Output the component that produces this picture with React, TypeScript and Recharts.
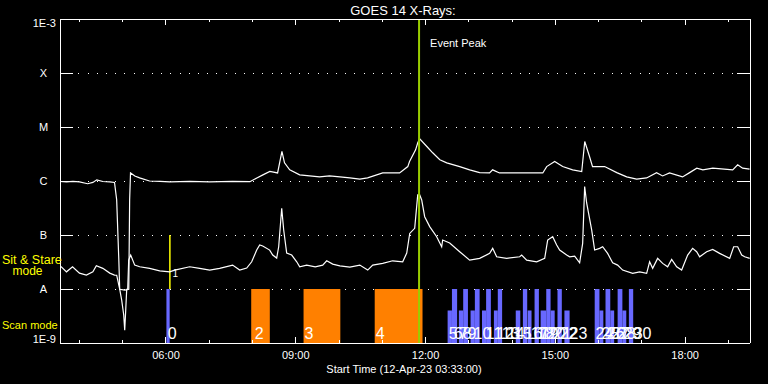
import React from 'react';
import {
  ComposedChart, Line, XAxis, YAxis, CartesianGrid,
  ReferenceArea, ReferenceLine, ReferenceDot,
} from 'recharts';

// GOES 14 X-ray flux, 12-Apr-23 (time in decimal hours UT, flux in W/m^2)
const longChannel: [number, number][] = [
  [3.55, 9.8e-7], [3.7, 9.6e-7], [3.85, 9.8e-7], [4.0, 9.6e-7], [4.19, 8.9e-7],
  [4.31, 9.4e-7], [4.4, 1.05e-6], [4.54, 9.8e-7], [4.7, 9.6e-7], [4.81, 9.4e-7],
  [4.86, 4.5e-7], [4.91, 3.4e-8], [4.93, 9.9e-9], [5.05, 9.5e-9], [5.14, 9.9e-9],
  [5.16, 4.5e-7], [5.18, 1.41e-6], [5.28, 1.24e-6], [5.39, 1.14e-6], [5.62, 1.0e-6],
  [5.86, 9.8e-7], [6.09, 9.6e-7], [6.55, 9.8e-7], [7.01, 9.6e-7], [7.54, 9.8e-7],
  [7.94, 9.7e-7], [8.1, 1.14e-6], [8.24, 1.3e-6], [8.4, 1.5e-6], [8.58, 1.41e-6],
  [8.68, 3.52e-6], [8.74, 2.17e-6], [8.86, 1.61e-6], [9.09, 1.3e-6], [9.32, 1.24e-6],
  [9.55, 1.19e-6], [9.78, 1.24e-6], [10.02, 1.19e-6], [10.25, 1.14e-6], [10.48, 1.08e-6],
  [10.66, 1.14e-6], [11.01, 1.41e-6], [11.4, 1.41e-6], [11.59, 1.85e-6], [11.63, 2.29e-6],
  [11.77, 3.78e-6], [11.82, 5.09e-6], [11.865, 6.05e-6], [12.03, 4.35e-6], [12.165, 3.33e-6],
  [12.33, 2.47e-6], [12.49, 2.17e-6], [12.79, 1.85e-6], [13.02, 1.61e-6], [13.25, 1.43e-6],
  [13.48, 1.41e-6], [13.55, 1.61e-6], [13.71, 1.41e-6], [14.18, 1.41e-6], [14.71, 1.41e-6],
  [14.8, 1.85e-6], [14.985, 2.29e-6], [15.17, 1.85e-6], [15.4, 1.61e-6], [15.61, 1.5e-6],
  [15.68, 5.39e-6], [15.79, 2.84e-6], [15.86, 1.85e-6], [16.02, 1.85e-6], [16.14, 1.85e-6],
  [16.42, 1.43e-6], [16.65, 1.19e-6], [16.88, 1.08e-6], [17.11, 1.14e-6], [17.34, 1.43e-6],
  [17.48, 1.24e-6], [17.64, 1.41e-6], [17.94, 1.19e-6], [18.105, 1.43e-6], [18.27, 1.73e-6],
  [18.41, 1.61e-6], [18.64, 1.73e-6], [19.1, 1.61e-6], [19.215, 1.99e-6], [19.33, 1.73e-6],
  [19.49, 1.66e-6],
];

const shortChannel: [number, number][] = [
  [3.55, 2.58e-8], [3.58, 2.58e-8], [3.7, 2.08e-8], [3.84, 2.58e-8], [4.0, 1.97e-8],
  [4.16, 1.81e-8], [4.31, 2.08e-8], [4.39, 2.69e-8], [4.54, 2.41e-8], [4.7, 1.97e-8],
  [4.81, 1.81e-8], [4.86, 1.8e-8], [4.93, 9.9e-9], [4.976, 6.2e-9], [5.023, 3.3e-9],
  [5.046, 1.72e-9], [5.069, 4.05e-9], [5.092, 9.9e-9], [5.115, 9.9e-9], [5.138, 3.43e-8],
  [5.184, 4.25e-8], [5.277, 2.77e-8], [5.392, 2.58e-8], [5.623, 2.41e-8], [5.855, 2.17e-8],
  [6.086, 2.08e-8], [6.201, 2.24e-8], [6.548, 2.58e-8], [6.779, 2.41e-8], [7.01, 2.24e-8],
  [7.24, 2.41e-8], [7.54, 2.77e-8], [7.704, 2.24e-8], [7.866, 2.44e-8], [7.981, 3.19e-8],
  [8.097, 5.26e-8], [8.166, 6.52e-8], [8.236, 6.25e-8], [8.397, 5.26e-8], [8.467, 4.25e-8],
  [8.559, 3.74e-8], [8.605, 6.06e-8], [8.675, 3.13e-7], [8.721, 1.24e-7], [8.79, 4.63e-8],
  [8.906, 4.25e-8], [9.022, 3.19e-8], [9.091, 2.58e-8], [9.253, 2.77e-8], [9.45, 2.58e-8],
  [9.623, 2.77e-8], [9.715, 3.33e-8], [9.854, 2.89e-8], [10.02, 2.69e-8], [10.25, 2.55e-8],
  [10.48, 2.77e-8], [10.663, 2.24e-8], [10.779, 2.77e-8], [11.01, 2.98e-8], [11.241, 3.33e-8],
  [11.472, 3.19e-8], [11.565, 4.63e-8], [11.634, 1.07e-7], [11.749, 1.33e-7], [11.819, 5.52e-7],
  [11.865, 5.52e-7], [11.911, 4.46e-7], [11.98, 2.18e-7], [12.096, 1.43e-7], [12.257, 9.29e-8],
  [12.373, 6.06e-8], [12.396, 8.07e-8], [12.558, 7.1e-8], [12.789, 4.9e-8], [13.02, 3.43e-8],
  [13.251, 3.69e-8], [13.482, 4.57e-8], [13.552, 5.66e-8], [13.644, 3.95e-8], [13.875, 3.69e-8],
  [14.176, 3.95e-8], [14.222, 4.25e-8], [14.338, 3.43e-8], [14.569, 3.19e-8], [14.754, 3.69e-8],
  [14.823, 8.07e-8], [14.939, 9.29e-8], [15.031, 6.52e-8], [15.1, 5.26e-8], [15.262, 4.25e-8],
  [15.331, 3.95e-8], [15.447, 4.07e-8], [15.562, 3.06e-8], [15.632, 7.01e-8], [15.678, 7.87e-7],
  [15.724, 3.92e-7], [15.84, 1.24e-7], [15.909, 5.26e-8], [16.024, 5.66e-8], [16.094, 6.06e-8],
  [16.209, 4.57e-8], [16.325, 3.06e-8], [16.44, 2.77e-8], [16.556, 2.24e-8], [16.787, 1.95e-8],
  [16.949, 2.08e-8], [17.111, 1.95e-8], [17.18, 3.19e-8], [17.25, 2.41e-8], [17.365, 3.69e-8],
  [17.481, 2.98e-8], [17.596, 2.58e-8], [17.689, 3.54e-8], [17.805, 2.58e-8], [17.92, 2.24e-8],
  [18.059, 4.25e-8], [18.174, 5.66e-8], [18.267, 4.9e-8], [18.336, 3.95e-8], [18.498, 4.9e-8],
  [18.637, 5.42e-8], [18.798, 4.57e-8], [19.03, 3.69e-8], [19.123, 6.06e-8], [19.215, 6.06e-8],
  [19.308, 4.25e-8], [19.377, 3.95e-8], [19.493, 3.69e-8],
];

const hourTicks = [4, 5, 6, 7, 8, 9, 10, 11, 12, 13, 14, 15, 16, 17, 18, 19];
const fluxTicks = [1e-9, 1e-8, 1e-7, 1e-6, 1e-5, 1e-4, 1e-3];
const fluxLabels = ['1E-9', 'A', 'B', 'C', 'M', 'X', '1E-3'];

// observation blocks [start, end] in hours
const sitStareBlocks: [number, number][] = [[7.97, 8.4], [9.18, 10.03], [10.825, 11.93]];
const scanHigh: [number, number][] = [
  [6.01, 6.085], [12.61, 12.73], [12.87, 12.98], [13.14, 13.25], [13.4, 13.51], [13.67, 13.77],
  [14.25, 14.35], [14.52, 14.62], [14.79, 14.89], [15.05, 15.15], [15.91, 16.02],
  [16.16, 16.27], [16.44, 16.55], [16.7, 16.8],
];
const scanLow: [number, number][] = [
  [12.51, 12.61], [12.77, 12.87], [13.04, 13.14], [13.305, 13.4], [13.58, 13.67],
  [14.085, 14.19], [14.36, 14.45], [14.66, 14.79], [14.89, 14.985], [15.21, 15.33],
  [16.02, 16.11], [16.27, 16.36], [16.55, 16.64],
];
const obsLabels: [string, number][] = [
  ['0', 6.04], ['2', 8.05], ['3', 9.2], ['4', 10.85], ['5', 12.535], ['6', 12.65],
  ['7', 12.77], ['8', 12.86], ['9', 12.97], ['10', 13.11], ['11', 13.39], ['12', 13.64],
  ['13', 13.76], ['14', 13.88], ['15', 14.04], ['16', 14.29], ['17', 14.43], ['18', 14.57],
  ['19', 14.66], ['20', 14.82], ['21', 14.96], ['22', 15.1], ['23', 15.33], ['24', 15.93],
  ['25', 16.07], ['26', 16.19], ['27', 16.3], ['28', 16.44], ['29', 16.58], ['30', 16.81],
];
const sitStareMark = 6.09;
const eventPeak = 11.85;

const FONT = '"Liberation Sans", Arial, sans-serif';
const WHITE = '#ffffff';
const YELLOW = '#ffff00';
const BLUE = '#6868ff';
const ORANGE = '#ff8000';
const PEAK = '#9acd00';

const longData = longChannel.map(([t, v]) => ({ t, v }));
const shortData = shortChannel.map(([t, v]) => ({ t, v }));

const pad = (h: number) => (h < 10 ? `0${h}` : `${h}`);

const BottomTick = ({ x, y, payload }: any) => {
  const major = payload.value % 3 === 0;
  return (
    <g>
      <line x1={x} x2={x} y1={y} y2={y - (major ? 6 : 3)} stroke={WHITE} shapeRendering="crispEdges" />
      {major && (
        <text x={x} y={y + 16} textAnchor="middle" fill={WHITE} fontSize={11} fontFamily={FONT}>
          {`${pad(payload.value)}:00`}
        </text>
      )}
    </g>
  );
};

const TopTick = ({ x, y, payload }: any) => {
  const major = payload.value % 3 === 0;
  return <line x1={x} x2={x} y1={y} y2={y + (major ? 6 : 3)} stroke={WHITE} shapeRendering="crispEdges" />;
};

const LeftTick = ({ x, y, index }: any) => {
  const label = fluxLabels[index];
  const edge = index === 0 || index === fluxLabels.length - 1;
  return (
    <g>
      {!edge && <line x1={x} x2={x + 13} y1={y} y2={y} stroke={WHITE} shapeRendering="crispEdges" />}
      <text
        x={edge ? x - 4 : x - 16.5}
        y={index === 0 ? y : edge ? y + 8 : y + 4}
        textAnchor={edge ? 'end' : 'middle'}
        fill={WHITE}
        fontSize={11}
        fontFamily={FONT}
      >
        {label}
      </text>
    </g>
  );
};

const RightTick = ({ x, y, index }: any) => {
  const edge = index === 0 || index === fluxLabels.length - 1;
  return edge ? <g /> : <line x1={x} x2={x - 13} y1={y} y2={y} stroke={WHITE} shapeRendering="crispEdges" />;
};

const EventLabel = ({ viewBox }: any) => (
  <text x={viewBox.x + 11} y={viewBox.y + 28} fill={WHITE} fontSize={11} fontFamily={FONT}>
    Event Peak
  </text>
);

const axisLine = { stroke: WHITE, shapeRendering: 'crispEdges' };

export default function App() {
  return (
    <div style={{ position: 'absolute', left: 0, top: 0, width: 768, height: 384, background: '#000' }}>
      <ComposedChart width={768} height={384} margin={{ top: 0, right: 0, bottom: 0, left: 0 }}>
        <CartesianGrid horizontal vertical={false} stroke={WHITE} strokeDasharray="1 8.2" shapeRendering="crispEdges" />
        <XAxis
          type="number" dataKey="t" domain={[3.55, 19.5]} allowDataOverflow
          ticks={hourTicks} interval={0} tickSize={0} tickMargin={0} tickLine={false}
          axisLine={axisLine} height={41} tick={BottomTick}
        />
        <XAxis
          xAxisId="top" orientation="top" type="number" dataKey="t" domain={[3.55, 19.5]}
          allowDataOverflow ticks={hourTicks} interval={0} tickSize={0} tickMargin={0}
          tickLine={false} axisLine={axisLine} height={19} tick={TopTick}
        />
        <YAxis
          scale="log" domain={[1e-9, 1e-3]} allowDataOverflow ticks={fluxTicks} interval={0}
          tickSize={0} tickMargin={0} tickLine={false} axisLine={axisLine}
          width={60} tick={LeftTick}
        />
        <YAxis
          yAxisId="right" orientation="right" scale="log" domain={[1e-9, 1e-3]} allowDataOverflow
          ticks={fluxTicks} interval={0} tickSize={0} tickMargin={0} tickLine={false}
          axisLine={axisLine} width={18} tick={RightTick}
        />

        {sitStareBlocks.map(([a, b], i) => (
          <ReferenceArea key={`o${i}`} x1={a} x2={b} y1={1e-9} y2={1e-8} fill={ORANGE} fillOpacity={1} stroke="none" />
        ))}
        {scanHigh.map(([a, b], i) => (
          <ReferenceArea key={`h${i}`} x1={a} x2={b} y1={1e-9} y2={1e-8} fill={BLUE} fillOpacity={1} stroke="none" />
        ))}
        {scanLow.map(([a, b], i) => (
          <ReferenceArea key={`l${i}`} x1={a} x2={b} y1={1e-9} y2={4e-9} fill={BLUE} fillOpacity={1} stroke="none" />
        ))}

        <ReferenceLine
          segment={[{ x: sitStareMark, y: 1e-7 }, { x: sitStareMark, y: 1e-8 }]}
          stroke={YELLOW} strokeOpacity={1} strokeWidth={1.5}
        />
        <ReferenceDot
          x={6.15} y={1e-8} r={0}
          shape={(p: any) => (
            <text x={p.cx} y={p.cy - 12} fill={WHITE} fontSize={10} fontFamily={FONT}>1</text>
          )}
        />

        <Line data={longData} dataKey="v" type="linear" stroke={WHITE} strokeWidth={1.2} dot={false} isAnimationActive={false} />
        <Line data={shortData} dataKey="v" type="linear" stroke={WHITE} strokeWidth={1.2} dot={false} isAnimationActive={false} />

        <ReferenceLine x={eventPeak} stroke={PEAK} strokeOpacity={1} strokeWidth={2} label={EventLabel} />

        {obsLabels.map(([label, t]) => (
          <ReferenceDot
            key={label} x={t} y={1e-9} r={0}
            shape={(p: any) => (
              <text x={p.cx} y={p.cy - 4.5} fill={WHITE} fontSize={16} fontFamily={FONT}>{label}</text>
            )}
          />
        ))}
      </ComposedChart>

      <svg width={768} height={384} style={{ position: 'absolute', left: 0, top: 0, pointerEvents: 'none' }}>
        <text x={403} y={15} textAnchor="middle" fill={WHITE} fontSize={13} fontFamily={FONT}>GOES 14 X-Rays:</text>
        <text x={404} y={373} textAnchor="middle" fill={WHITE} fontSize={11} fontFamily={FONT}>Start Time (12-Apr-23 03:33:00)</text>
        <text x={2} y={263.5} fill={YELLOW} fontSize={12.5} fontFamily={FONT}>Sit &amp; Stare</text>
        <text x={12.5} y={275} fill={YELLOW} fontSize={12} fontFamily={FONT}>mode</text>
        <text x={2} y={328.5} fill={YELLOW} fontSize={11} fontFamily={FONT}>Scan mode</text>
      </svg>
    </div>
  );
}
